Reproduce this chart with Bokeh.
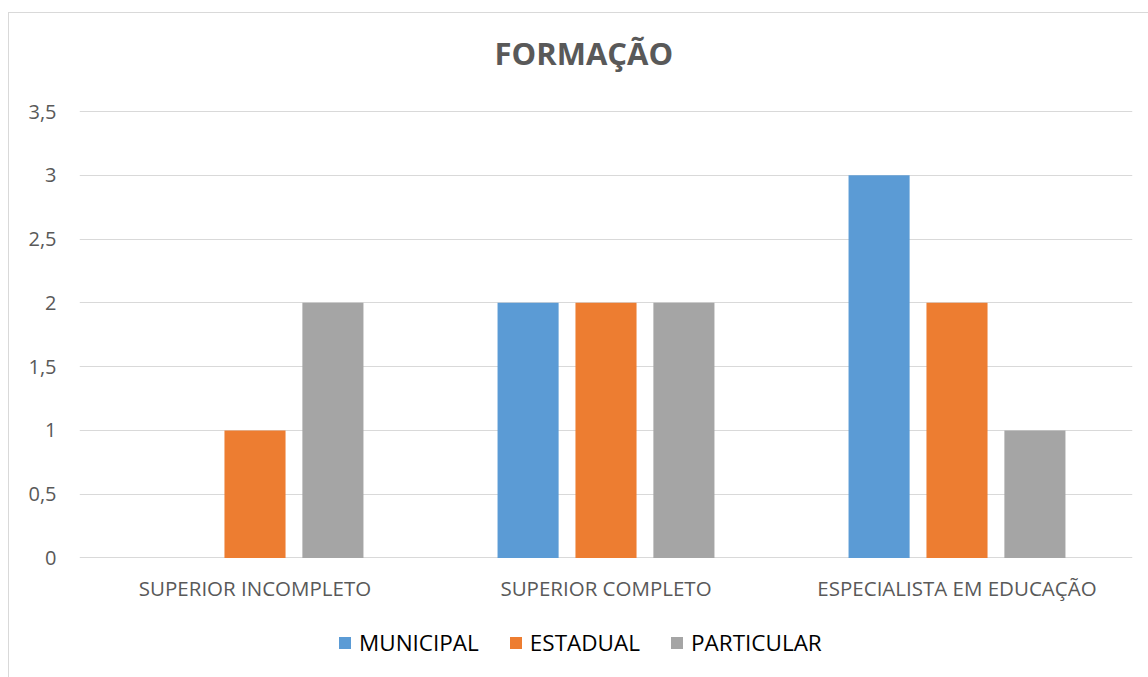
from bokeh.plotting import figure
from bokeh.layouts import column
from bokeh.models import ColumnDataSource, FactorRange, Legend, LegendItem, Range1d, FixedTicker
from bokeh.transform import dodge
from bokeh.embed import file_html
from bokeh.resources import INLINE

categories = ["SUPERIOR INCOMPLETO", "SUPERIOR COMPLETO", "ESPECIALISTA EM EDUCAÇÃO"]
series_names = ["MUNICIPAL", "ESTADUAL", "PARTICULAR"]
municipal = [0, 2, 3]
estadual = [1, 2, 2]
particular = [2, 2, 1]
colors = ["#5B9BD5", "#ED7D31", "#A5A5A5"]
y_ticks = [0, 0.5, 1, 1.5, 2, 2.5, 3, 3.5]
y_tick_labels = ["0", "0,5", "1", "1,5", "2", "2,5", "3", "3,5"]

FONT = "Open Sans"
TXT = "#595959"

src = ColumnDataSource(dict(cat=categories, MUNICIPAL=municipal, ESTADUAL=estadual, PARTICULAR=particular))
offsets = [-0.222, 0.0, 0.222]

# main chart
p = figure(x_range=FactorRange(*categories), y_range=Range1d(-0.004, 3.704),
           width=1139, height=609, output_backend="svg", toolbar_location=None,
           min_border_left=70, min_border_right=16, min_border_top=72, min_border_bottom=64)
p.outline_line_color = None

for name, off, col in zip(series_names, offsets, colors):
    p.vbar(x=dodge("cat", off, range=p.x_range), top=name, width=0.174, source=src,
           fill_color=col, line_color=None)

p.title.text = "FORMAÇÃO"
p.title.align = "left"
p.title.offset = 415
p.title.text_font = FONT
p.title.text_font_size = "31px"
p.title.text_color = TXT
p.title.text_font_style = "bold"
p.title.standoff = 24

p.xgrid.grid_line_color = None
p.ygrid.grid_line_color = "#d9d9d9"
p.ygrid.grid_line_width = 1

p.yaxis.ticker = FixedTicker(ticks=y_ticks)
p.yaxis.major_label_overrides = {t: l for t, l in zip(y_ticks, y_tick_labels)}
for ax in (p.xaxis[0], p.yaxis[0]):
    ax.axis_line_color = None
    ax.major_tick_line_color = None
    ax.minor_tick_line_color = None
    ax.major_label_text_font = FONT
    ax.major_label_text_color = TXT
p.xaxis.major_label_text_font_size = "20.5px"
p.yaxis.major_label_text_font_size = "20px"
p.yaxis.major_label_standoff = 17
p.xaxis.major_label_standoff = 9

# legend strip
lg = figure(x_range=FactorRange(*categories), y_range=Range1d(10, 11),
            width=1139, height=55, output_backend="svg", toolbar_location=None,
            x_axis_location=None, y_axis_location=None,
            min_border_left=0, min_border_right=0, min_border_top=0, min_border_bottom=0)
lg.outline_line_color = None
lg.xgrid.grid_line_color = None
lg.ygrid.grid_line_color = None
renderers = []
for name, off, col in zip(series_names, offsets, colors):
    r = lg.vbar(x=dodge("cat", off, range=lg.x_range), top=name, width=0.174, source=src,
                fill_color=col, line_color=None)
    renderers.append(r)

legend = Legend(items=[LegendItem(label=n, renderers=[r]) for n, r in zip(series_names, renderers)],
                orientation="horizontal", location=(258, 19))
legend.label_text_font = FONT
legend.label_text_font_size = "22.5px"
legend.label_text_color = "#000000"
legend.glyph_width = 15
legend.glyph_height = 15
legend.label_standoff = 7
legend.spacing = 29
legend.border_line_color = None
legend.background_fill_alpha = 0
legend.padding = 0
legend.margin = 0
lg.add_layout(legend, "center")

layout = column(p, lg, margin=(12, 0, 0, 8),
                styles={"border-left": "1px solid #d9d9d9", "border-top": "1px solid #d9d9d9"})

open("out.html", "w").write(file_html(layout, INLINE))
